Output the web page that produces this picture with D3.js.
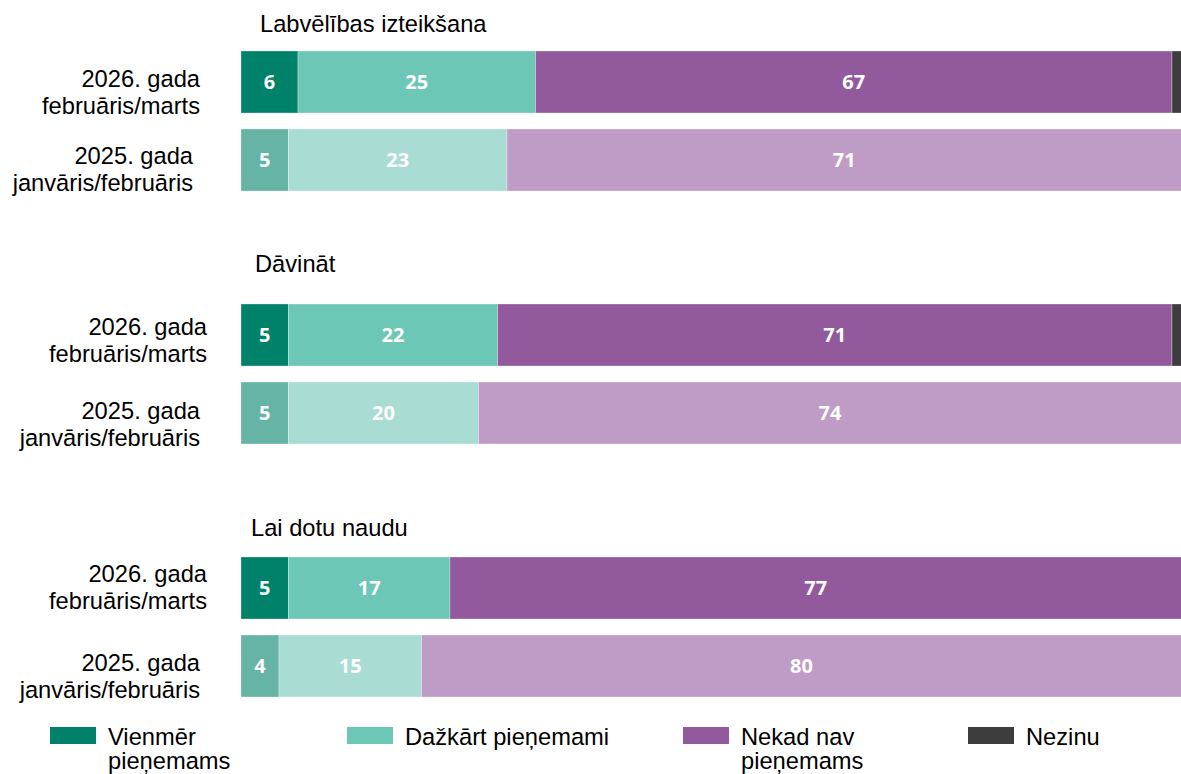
<!DOCTYPE html>
<html>
<head>
<meta charset="utf-8">
<script src="https://cdn.jsdelivr.net/npm/d3@7"></script>
<style>
  body { margin: 0; background: #fff; overflow: hidden; }
  svg { display: block; }
</style>
</head>
<body>
<div id="chart-area"></div>
<script>
// *********************
// Data
// *********************

const questions = ["Labvēlības izteikšana", "Dāvināt", "Lai dotu naudu"];
const periods = ["2026", "2025"];
const periodLines = [["2026. gada", "februāris/marts"], ["2025. gada", "janvāris/februāris"]];

const categories = ["Vienmēr pieņemams", "Dažkārt pieņemami", "Nekad nav pieņemams", "Nezinu"];
const legendLines = [["Vienmēr", "pieņemams"], ["Dažkārt pieņemami"], ["Nekad nav", "pieņemams"], ["Nezinu"]];

// one value per row: question x period (2026, 2025)
const always    = [6, 5, 5, 5, 5, 4];
const sometimes = [25, 23, 22, 20, 17, 15];
const never     = [67, 71, 71, 74, 77, 80];
const dontKnow  = [2, 1, 2, 1, 1, 1];

// *********************
// Layout
// *********************

const width = 1181;
const height = 774;

const titlePos = [[260, 32], [255, 272], [251, 536]];
const rowLabelPos = [[200, 87], [193, 164], [207, 335], [200, 419], [207, 582], [200, 671]];
const legendX = [50, 347, 683, 968];

const strongColors = ["#00826a", "#6cc7b6", "#925a9c", "#3d3d3d"];
const lightColors  = ["#66b4a6", "#a9ddd4", "#bf9cc6", "#8a8a8a"];

const textFont = "'Liberation Sans', Arial, sans-serif";

const svg = d3.select("#chart-area")
	.append("svg")
	.attr("width", width)
	.attr("height", height);

// *********************
// Scales
// *********************

const x = d3.scaleLinear()
	.domain([0, 100])
	.range([241, 1191]);

const groupY = d3.scalePoint()
	.domain(questions)
	.range([51, 557]);

const rowY = d3.scaleBand()
	.domain(periods)
	.range([0, 140])
	.paddingInner(0.205)
	.paddingOuter(0);

// *********************
// Table for the stack
// *********************

const rows = [];
questions.forEach((q, qi) => {
	periods.forEach((p, pi) => {
		const i = qi * periods.length + pi;
		const row = {question: q, period: p, index: i};
		row[categories[0]] = always[i];
		row[categories[1]] = sometimes[i];
		row[categories[2]] = never[i];
		row[categories[3]] = dontKnow[i];
		rows.push(row);
	});
});

const series = d3.stack().keys(categories)(rows);

// *********************
// Bars
// *********************

const barsG = svg.append("g");

series.forEach((s, ci) => {
	barsG.selectAll(null)
		.data(s)
		.enter()
		.append("rect")
		.attr("x", d => x(d[0]))
		.attr("y", d => groupY(d.data.question) + rowY(d.data.period))
		.attr("width", d => x(d[1]) - x(d[0]))
		.attr("height", rowY.bandwidth())
		.attr("fill", d => d.data.period === periods[0] ? strongColors[ci] : lightColors[ci])
		.attr("stroke", "#fff")
		.attr("stroke-opacity", 0.3)
		.attr("stroke-width", 1);

	barsG.selectAll(null)
		.data(s.filter(d => d[1] - d[0] >= 3))
		.enter()
		.append("text")
		.attr("x", d => (x(d[0]) + x(d[1])) / 2)
		.attr("y", d => groupY(d.data.question) + rowY(d.data.period) + rowY.bandwidth() / 2)
		.attr("dy", "0.36em")
		.attr("text-anchor", "middle")
		.attr("fill", "#fff")
		.attr("font-family", "'Open Sans', sans-serif")
		.attr("font-weight", 700)
		.attr("font-size", "20px")
		.text(d => d[1] - d[0]);
});

// *********************
// Titles and row labels
// *********************

questions.forEach((q, qi) => {
	svg.append("text")
		.attr("x", titlePos[qi][0])
		.attr("y", titlePos[qi][1])
		.attr("font-family", textFont)
		.attr("font-size", "23.7px")
		.attr("fill", "#000")
		.text(q);
});

rows.forEach((r, i) => {
	const pi = periods.indexOf(r.period);
	const t = svg.append("text")
		.attr("x", rowLabelPos[i][0])
		.attr("y", rowLabelPos[i][1])
		.attr("text-anchor", "end")
		.attr("font-family", textFont)
		.attr("font-size", "23.7px")
		.attr("fill", "#000");
	periodLines[pi].forEach((line, li) => {
		t.append("tspan")
			.attr("x", rowLabelPos[i][0])
			.attr("dy", li === 0 ? 0 : 26.5)
			.text(line);
	});
});

// *********************
// Legend
// *********************

const legend = svg.append("g");

categories.forEach((c, ci) => {
	legend.append("rect")
		.attr("x", legendX[ci])
		.attr("y", 727)
		.attr("width", 46)
		.attr("height", 17)
		.attr("fill", strongColors[ci]);

	const t = legend.append("text")
		.attr("x", legendX[ci] + 58)
		.attr("y", 745)
		.attr("font-family", textFont)
		.attr("font-size", "23.7px")
		.attr("fill", "#000");
	legendLines[ci].forEach((line, li) => {
		t.append("tspan")
			.attr("x", legendX[ci] + 58)
			.attr("dy", li === 0 ? 0 : 24)
			.text(line);
	});
});
</script>
</body>
</html>
